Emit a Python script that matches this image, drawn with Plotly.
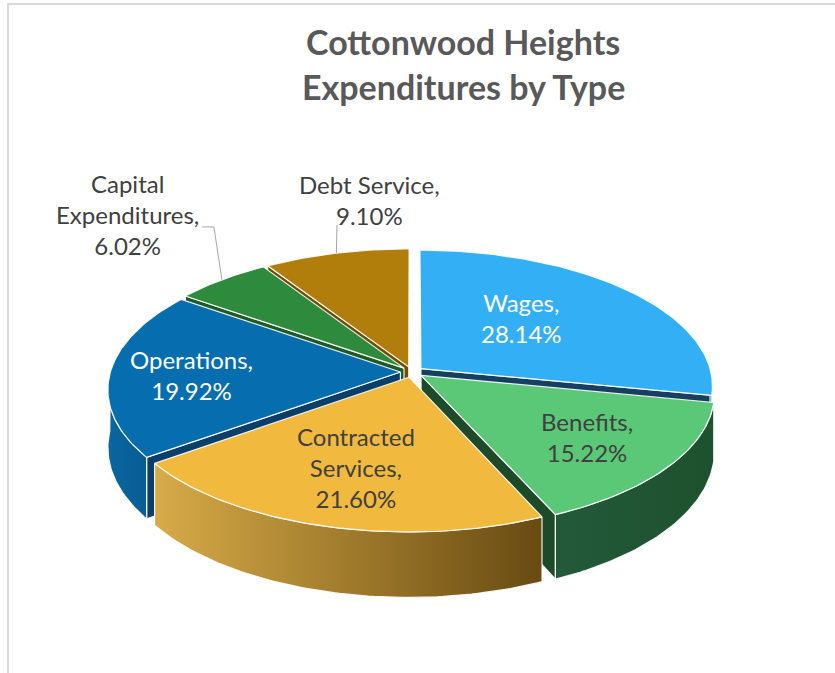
import math
import plotly.graph_objects as go

# ---------------- data ----------------
categories = ["Wages", "Benefits", "Contracted Services", "Operations",
              "Capital Expenditures", "Debt Service"]
label_names = ["Wages,", "Benefits,", "Contracted<br>Services,", "Operations,",
               "Capital<br>Expenditures,", "Debt Service,"]
percent = [28.14, 15.22, 21.60, 19.92, 6.02, 9.10]
title_lines = ["Cottonwood Heights", "Expenditures by Type"]

# ---------------- style ----------------
top_colors = ["#33B0F5", "#5BC878", "#F1BA3E", "#066EAF", "#2E8B3E", "#B17D0B"]
side_grad = [("#1E6494", "#1A5684"), ("#23593A", "#1E512D"), ("#D8AB48", "#684B12"),
             ("#0A66A0", "#085C92"), ("#1F6A2C", "#1F6A2C"), ("#7E5908", "#7E5908")]
wall_colors = ["#173F5F", "#1D4A28", "#6E5010", "#0B3F6A", "#1D5A28", "#6E4E08"]
label_colors = ["white", "#404040", "#404040", "white", "#404040", "#404040"]
label_r = [0.54, 0.69, 0.64, 0.72, 1.75, 1.50]
label_da = [-8, 0, 0, -1.5, 3.8, 10.2]
outside = [False, False, False, False, True, True]

FONT = "Lato"
W, H = 835, 673
CX, CY = 412, 372          # pie centre (px)
RX, RY = 290, 134          # radii of the top face (px)
K = 0.125                  # perspective strength
DEPTH = 57                 # pie thickness (px)
EXPLODE = 0.04


def proj(X, Z, h=0.0):
    den = 1 + K * Z
    return CX + RX * X / den, CY + (-RY * Z + h) / den


def arc(ox, oz, a0, a1, h=0.0, step=1.0):
    n = max(2, int(abs(a1 - a0) / step) + 1)
    pts = []
    for i in range(n + 1):
        t = math.radians(a0 + (a1 - a0) * i / n)
        pts.append(proj(ox + math.sin(t), oz + math.cos(t), h))
    return pts


fig = go.Figure()


def poly(pts, color=None, grad=None, lw=1.2, lc="rgba(255,255,255,0.9)"):
    xs = [p[0] for p in pts] + [pts[0][0]]
    ys = [p[1] for p in pts] + [pts[0][1]]
    kw = dict(x=xs, y=ys, mode="lines", fill="toself",
              line=dict(color=lc, width=lw), hoverinfo="skip", showlegend=False)
    if grad is not None:
        kw["fillgradient"] = dict(type="horizontal",
                                  colorscale=[[0, grad[0]], [1, grad[1]]],
                                  start=min(xs), stop=max(xs))
    else:
        kw["fillcolor"] = color
    fig.add_trace(go.Scatter(**kw))


# slice angles (degrees clockwise from 12 o'clock)
total = sum(percent)
bounds = []
acc = 0.0
for v in percent:
    a0 = acc / total * 360
    acc += v
    bounds.append((a0, acc / total * 360))

mids = [(a0 + a1) / 2 for a0, a1 in bounds]
offs = [(EXPLODE * math.sin(math.radians(m)), EXPLODE * math.cos(math.radians(m))) for m in mids]

order = sorted(range(len(percent)), key=lambda i: -math.cos(math.radians(mids[i])))

for i in order:
    a0, a1 = bounds[i]
    ox, oz = offs[i]
    # radial walls facing the viewer
    for a, vis in ((a0, math.sin(math.radians(a0)) < -1e-6), (a1, math.sin(math.radians(a1)) > 1e-6)):
        if vis:
            t = math.radians(a)
            rx_, rz_ = ox + math.sin(t), oz + math.cos(t)
            poly([proj(ox, oz, 0), proj(rx_, rz_, 0), proj(rx_, rz_, DEPTH), proj(ox, oz, DEPTH)],
                 color=wall_colors[i])
    # outer side (front half only)
    s0, s1 = max(a0, 90), min(a1, 270)
    if s1 > s0:
        top = arc(ox, oz, s0, s1, 0)
        bot = arc(ox, oz, s0, s1, DEPTH)
        poly(top + bot[::-1], grad=side_grad[i])
    # top face
    poly([proj(ox, oz)] + arc(ox, oz, a0, a1), color=top_colors[i])

# labels
for i in range(len(percent)):
    ox, oz = offs[i]
    t = math.radians(mids[i] + label_da[i])
    lx, ly = proj(ox + label_r[i] * math.sin(t), oz + label_r[i] * math.cos(t))
    fig.add_annotation(x=lx, y=ly, xref="x", yref="y", showarrow=False,
                       text=f"{label_names[i]}<br>{percent[i]:.2f}%",
                       font=dict(family=FONT, size=24, color=label_colors[i]),
                       align="center", xanchor="center", yanchor="middle")
    if outside[i]:
        tm = math.radians(mids[i])
        ex, ey = proj(ox + math.sin(tm), oz + math.cos(tm))
        if i == 4:
            sx, sy = lx + 74, ly + 12
            xs, ys = [sx, ex - 8, ex], [sy, sy, ey]
        else:
            sx, sy = lx - 33, ly + 25
            xs, ys = [sx, ex], [sy, ey]
        fig.add_trace(go.Scatter(x=xs, y=ys, mode="lines", line=dict(color="#A6A6A6", width=1),
                                 hoverinfo="skip", showlegend=False))

# title
for j, line in enumerate(title_lines):
    fig.add_annotation(x=463, y=41 + 45 * j, xref="x", yref="y", showarrow=False,
                       text=f"<b>{line}</b>",
                       font=dict(family=FONT, size=34, color="#595959"),
                       xanchor="center", yanchor="middle")

# chart frame
fig.add_shape(type="rect", xref="x", yref="y", x0=8, y0=4, x1=W + 20, y1=H + 20,
              line=dict(color="#D9D9D9", width=2), layer="below")

fig.update_layout(
    width=W, height=H, margin=dict(l=0, r=0, t=0, b=0),
    paper_bgcolor="white", plot_bgcolor="white",
    xaxis=dict(range=[0, W], visible=False, fixedrange=True),
    yaxis=dict(range=[H, 0], visible=False, fixedrange=True),
)

fig.write_html("out.html")
